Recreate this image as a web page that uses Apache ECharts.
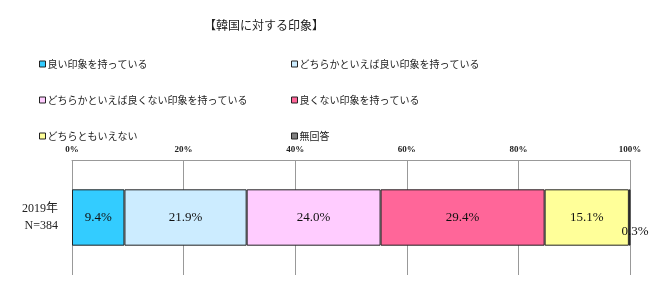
<!DOCTYPE html>
<html><head><meta charset="utf-8">
<script src="https://cdn.jsdelivr.net/npm/echarts@6/dist/echarts.min.js"></script>
<style>html,body{margin:0;padding:0;background:#fff}#c{width:670px;height:292px}</style>
</head><body><div id="c"></div>
<script>
const categories = ['2019年\nN=384'];
const seriesNames = ['良い印象を持っている','どちらかといえば良い印象を持っている','どちらかといえば良くない印象を持っている','良くない印象を持っている','どちらともいえない','無回答'];
const values = [9.4, 21.9, 24.0, 29.4, 15.1, 0.3];
const colors = ['#33CCFF','#CCECFF','#FFCCFF','#FF6699','#FFFF99','#808080'];
const tickLabels = ['0%','20%','40%','60%','80%','100%'];

const serif = '"Liberation Serif","Noto Sans CJK JP",serif';
const jp = '"Noto Sans CJK JP","Liberation Serif",serif';

const series = seriesNames.map((n, i) => ({
  name: n, type: 'bar', stack: 'a', barWidth: '49%',
  data: [values[i]],
  itemStyle: { color: colors[i], borderColor: '#222', borderWidth: 1 },
  label: i < 5 ? { show: true, position: 'inside', formatter: p => p.value.toFixed(1) + '%', color: '#111', fontFamily: serif, fontSize: 13 }
    : { show: true, position: 'right', offset: [-14, 14], formatter: p => p.value.toFixed(1) + '%', color: '#111', fontFamily: serif, fontSize: 13 }
}));

const legendCommon = {
  orient: 'vertical', itemWidth: 6, itemHeight: 6, itemGap: 22,
  icon: 'rect',
  itemStyle: { borderColor: '#222', borderWidth: 1 },
  textStyle: { fontFamily: jp, fontSize: 10, color: '#222', padding: [0,0,0,-3], lineHeight: 14, height: 14 }
};

const chart = echarts.init(document.getElementById('c'));
chart.setOption({
  animation: false,
  color: colors,
  title: { text: '【韓国に対する印象】', left: 204, top: 19, padding: 0, textStyle: { fontFamily: jp, fontSize: 12, fontWeight: 'normal', color: '#222' } },
  legend: [
    Object.assign({}, legendCommon, { left: 34, top: 52, data: [seriesNames[0], seriesNames[2], seriesNames[4]] }),
    Object.assign({}, legendCommon, { left: 286, top: 52, data: [seriesNames[1], seriesNames[3], seriesNames[5]] })
  ],
  grid: { left: 72, right: 40, top: 160, bottom: 17 },
  xAxis: {
    type: 'value', position: 'top', min: 0, max: 100, interval: 20,
    axisLine: { show: true, lineStyle: { color: '#999' } },
    axisTick: { show: false },
    splitLine: { show: true, lineStyle: { color: '#999' } },
    axisLabel: { formatter: v => tickLabels[v / 20], fontFamily: serif, fontSize: 9, fontWeight: 'bold', color: '#222', margin: 6 }
  },
  yAxis: {
    type: 'category', data: categories,
    axisLine: { show: false }, axisTick: { show: false },
    axisLabel: { fontFamily: serif, fontSize: 12, color: '#222', lineHeight: 17, margin: 14 }
  },
  series: series
});
</script></body></html>
